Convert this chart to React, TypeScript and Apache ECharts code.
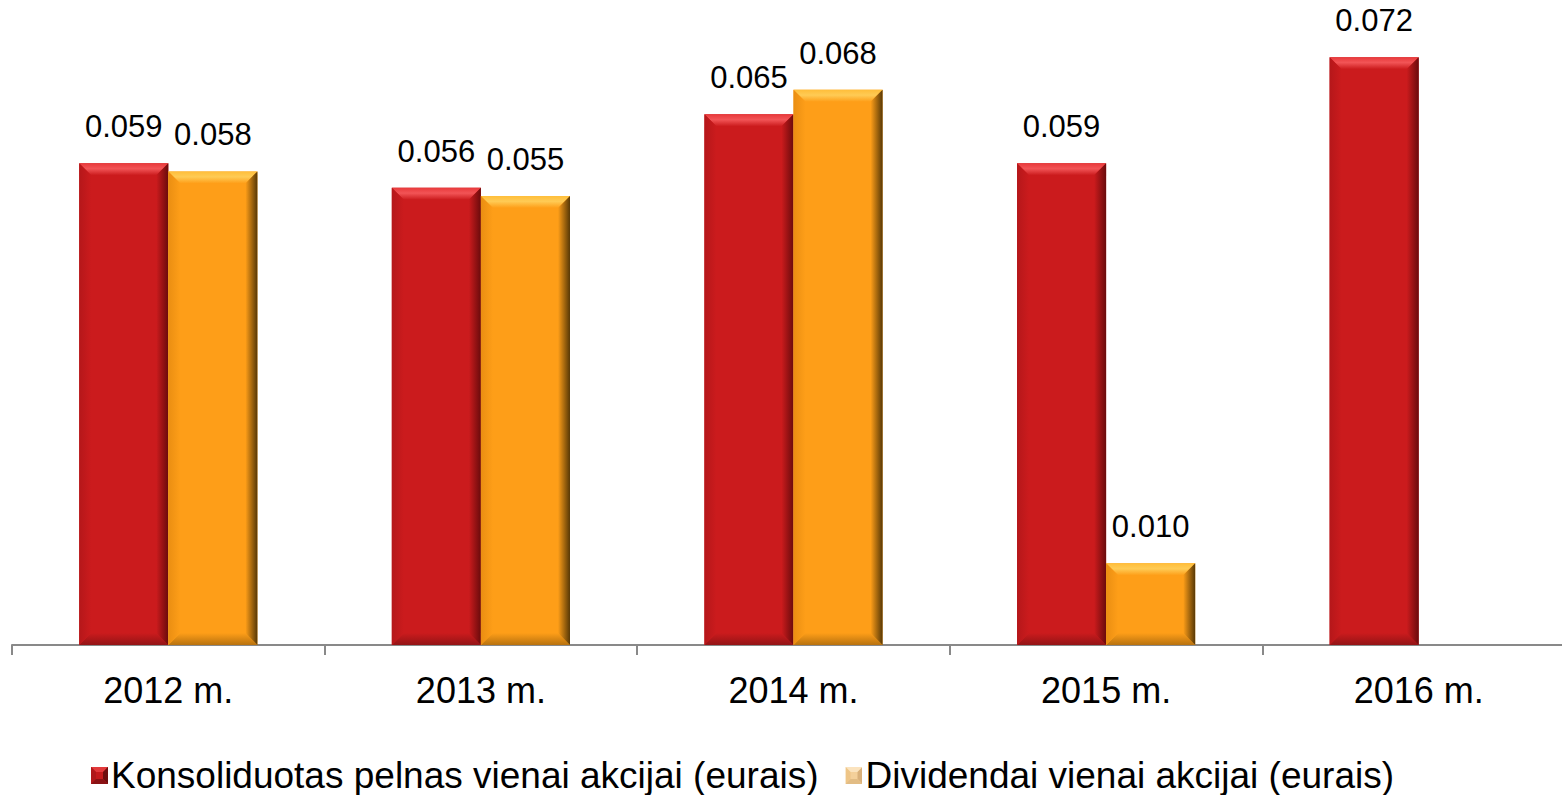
import React, { useEffect, useRef } from "react";
import * as echarts from "echarts";

const categories = ["2012 m.", "2013 m.", "2014 m.", "2015 m.", "2016 m."];
const profit = [0.059, 0.056, 0.065, 0.059, 0.072];
const dividends: (number | null)[] = [0.058, 0.055, 0.068, 0.01, null];
const seriesNames = [
  "Konsoliduotas pelnas vienai akcijai (eurais)",
  "Dividendai vienai akcijai (eurais)",
];

const palettes = [
  { main: "#CB1B1D", top: "#E8393B", topHi: "#F25456", left: "#B5171A", right: "#6A0B0C", bottom: "#931416" },
  { main: "#FE9E18", top: "#FFBE3A", topHi: "#FFCB55", left: "#EA8E12", right: "#573806", bottom: "#B8720F" },
];

const iconColors = [
  { main: "#C41A1C", top: "#E2393B", left: "#B0181A", right: "#6E0D0E", bottom: "#8A1214" },
  { main: "#F4D09A", top: "#FBE3BE", left: "#EEC587", right: "#D9B07A", bottom: "#E2BC84" },
];

function iconUrl(i: number) {
  const c = iconColors[i];
  const svg =
    `<svg xmlns="http://www.w3.org/2000/svg" width="17" height="17" viewBox="0 0 17 17">` +
    `<rect x="0" y="0" width="17" height="17" fill="${c.main}"/>` +
    `<polygon points="0,0 17,0 12,5 5,5" fill="${c.top}"/>` +
    `<polygon points="0,0 5,5 5,12 0,17" fill="${c.left}"/>` +
    `<polygon points="17,0 12,5 12,12 17,17" fill="${c.right}"/>` +
    `<polygon points="0,17 17,17 12,12 5,12" fill="${c.bottom}"/>` +
    `</svg>`;
  return "image://data:image/svg+xml;charset=utf-8," + encodeURIComponent(svg);
}

const FONT = "'Liberation Sans', Arial, sans-serif";

function makeRender(s: number) {
  const p = palettes[s];
  return (params: any, api: any) => {
    const v = api.value(1);
    if (v === null || v === undefined || isNaN(v)) return null;
    const c = api.coord([api.value(0), v]);
    const base = api.coord([api.value(0), 0]);
    const band = api.size([1, 0])[0];
    const w = band * 0.285;
    const x0 = s === 0 ? c[0] - w : c[0];
    const x1 = x0 + w;
    const top = c[1];
    const bot = base[1];
    const b = Math.min(12, (bot - top) / 2);
    const G = echarts.graphic.LinearGradient;
    return {
      type: "group",
      children: [
        { type: "rect", shape: { x: x0, y: top, width: w, height: bot - top }, style: { fill: p.main } },
        {
          type: "polygon",
          shape: { points: [[x0, top], [x1, top], [x1 - b, top + b], [x0 + b, top + b]] },
          style: { fill: new G(0, 0, 0, 1, [{ offset: 0, color: p.top }, { offset: 0.45, color: p.topHi }, { offset: 1, color: p.main }]) },
        },
        {
          type: "polygon",
          shape: { points: [[x0, bot], [x1, bot], [x1 - b, bot - b], [x0 + b, bot - b]] },
          style: { fill: new G(0, 0, 0, 1, [{ offset: 0, color: p.main }, { offset: 1, color: p.bottom }]) },
        },
        {
          type: "polygon",
          shape: { points: [[x0, top], [x0 + b, top + b], [x0 + b, bot - b], [x0, bot]] },
          style: { fill: new G(0, 0, 1, 0, [{ offset: 0, color: p.left }, { offset: 1, color: p.main }]) },
        },
        {
          type: "polygon",
          shape: { points: [[x1, top], [x1 - b, top + b], [x1 - b, bot - b], [x1, bot]] },
          style: { fill: new G(0, 0, 1, 0, [{ offset: 0, color: p.main }, { offset: 1, color: p.right }]) },
        },
        {
          type: "text",
          style: {
            text: Number(v).toFixed(3),
            x: (x0 + x1) / 2,
            y: top - 21,
            align: "center",
            verticalAlign: "bottom",
            fill: "#000",
            font: `31px ${FONT}`,
          },
        },
      ],
    };
  };
}

export default function App() {
  const ref = useRef<HTMLDivElement>(null);
  useEffect(() => {
    if (!ref.current) return;
    const chart = echarts.init(ref.current, undefined, { renderer: "svg" });
    chart.setOption({
      animation: false,
      backgroundColor: "#fff",
      grid: { left: 12, right: 0, top: 0, bottom: 150, containLabel: false },
      legend: {
        left: 86,
        top: 752,
        itemWidth: 17,
        itemHeight: 17,
        itemGap: 27,
        textStyle: { fontSize: 37, lineHeight: 37, color: "#000", fontFamily: FONT, padding: [0, 0, 0, -2] },
        data: [
          { name: seriesNames[0], icon: iconUrl(0) },
          { name: seriesNames[1], icon: iconUrl(1) },
        ],
      },
      xAxis: {
        type: "category",
        data: categories,
        axisLine: { lineStyle: { color: "#898989", width: 2 } },
        axisTick: { show: true, length: 10, lineStyle: { color: "#898989", width: 2 } },
        axisLabel: { fontSize: 36, color: "#000", fontFamily: FONT, margin: 27 },
      },
      yAxis: { type: "value", min: 0, max: 0.079, show: false, splitLine: { show: false } },
      series: [
        {
          type: "custom",
          name: seriesNames[0],
          itemStyle: { color: palettes[0].main },
          renderItem: makeRender(0),
          encode: { x: 0, y: 1 },
          data: profit.map((v, i) => [i, v]),
        },
        {
          type: "custom",
          name: seriesNames[1],
          itemStyle: { color: palettes[1].main },
          renderItem: makeRender(1),
          encode: { x: 0, y: 1 },
          data: dividends.map((v, i) => [i, v === null ? "-" : v]),
        },
      ],
    });
    return () => chart.dispose();
  }, []);
  return (
    <div style={{ position: "absolute", left: 0, top: 0, width: 1562, height: 795, overflow: "hidden" }}>
      <div ref={ref} style={{ width: 1575, height: 795 }} />
    </div>
  );
}
